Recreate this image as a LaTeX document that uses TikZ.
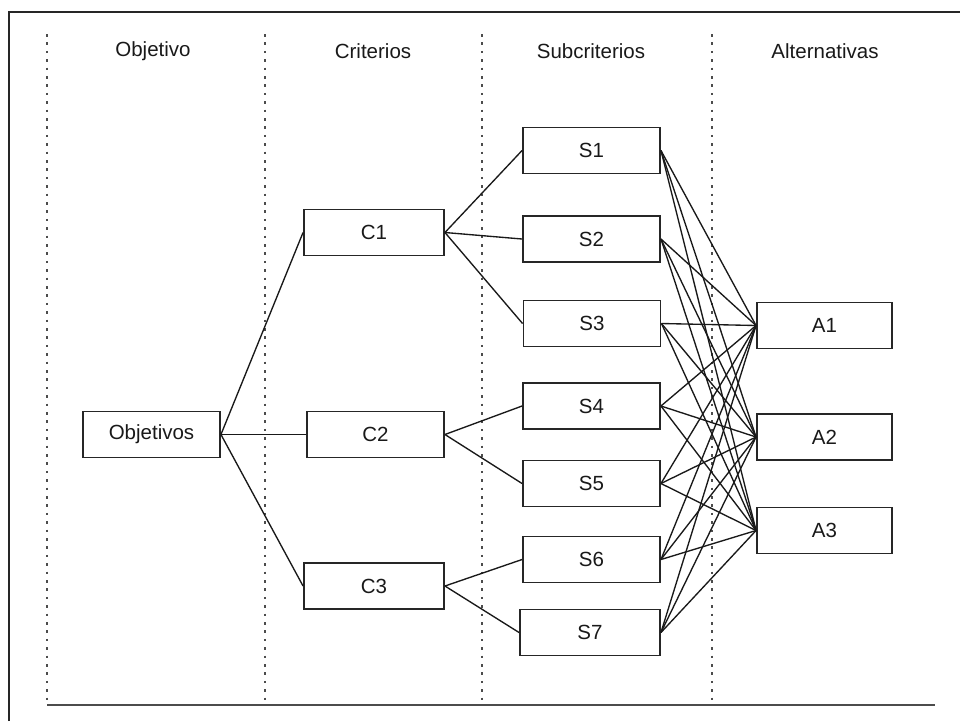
\documentclass[tikz,border=0pt]{standalone}
\usepackage{fontspec}
\setmainfont{Liberation Sans}
\begin{document}
\begin{tikzpicture}[x=1pt,y=-1pt,
  box/.style={draw=black!85, line width=1.9pt, minimum width=137pt, minimum height=46pt, inner sep=0pt, font=\fontsize{20.5}{22}\selectfont, text=black!90},
  head/.style={font=\fontsize{20.5}{22}\selectfont, text=black!90},
  link/.style={draw=black!90, line width=1.35pt},
  sep/.style={draw=black!70, line width=2.2pt, dash pattern=on 2.6pt off 5.8pt},
  frame/.style={draw=black!85, line width=2.4pt}]
\useasboundingbox (0,0) rectangle (960,721);
% outer frame
\coordinate (f1) at (9,721);
\coordinate (f2) at (9,12);
\coordinate (f3) at (960,12);
\draw[frame] (f1) -- (f2) -- (f3);
% separators
\foreach \x/\n in {47/a,265/b,482/c,712/d}{
  \coordinate (t\n) at (\x,34);
  \coordinate (b\n) at (\x,705);
  \draw[sep] (t\n) -- (b\n);
}
\coordinate (bl) at (47,705);
\coordinate (br) at (935,705);
\draw[draw=black!70, line width=2pt] (bl) -- (br);
% headers
\node[head] (h1) at (153,51) {Objetivo};
\node[head] (h2) at (373,51) {Criterios};
\node[head] (h3) at (591,51) {Subcriterios};
\node[head] (h4) at (825,51) {Alternativas};
% boxes
\node[box] (obj) at (151.5,434.5) {Objetivos};
\node[box, minimum width=140pt] (c1) at (374,232.5) {C1};
\node[box] (c2) at (375.5,434.5) {C2};
\node[box, minimum width=140pt] (c3) at (374,586) {C3};
\node[box] (s1) at (591.5,150.5) {S1};
\node[box] (s2) at (591.5,239) {S2};
\node[box] (s3) at (592,323.5) {S3};
\node[box] (s4) at (591.5,406) {S4};
\node[box] (s5) at (591.5,483.5) {S5};
\node[box] (s6) at (591.5,559.5) {S6};
\node[box, minimum width=140pt] (s7) at (590,632.5) {S7};
\node[box, minimum width=135pt] (a1) at (824.5,325.5) {A1};
\node[box, minimum width=135pt] (a2) at (824.5,437) {A2};
\node[box, minimum width=135pt] (a3) at (824.5,530.5) {A3};
% links
\foreach \c in {c1,c2,c3}{\draw[link] (obj.east) -- (\c.west);}
\foreach \s in {s1,s2,s3}{\draw[link] (c1.east) -- (\s.west);}
\foreach \s in {s4,s5}{\draw[link] (c2.east) -- (\s.west);}
\foreach \s in {s6,s7}{\draw[link] (c3.east) -- (\s.west);}
\foreach \s in {s1,s2,s3,s4,s5,s6,s7}{
  \foreach \a in {a1,a2,a3}{\draw[link] (\s.east) -- (\a.west);}
}
\end{tikzpicture}
\end{document}
